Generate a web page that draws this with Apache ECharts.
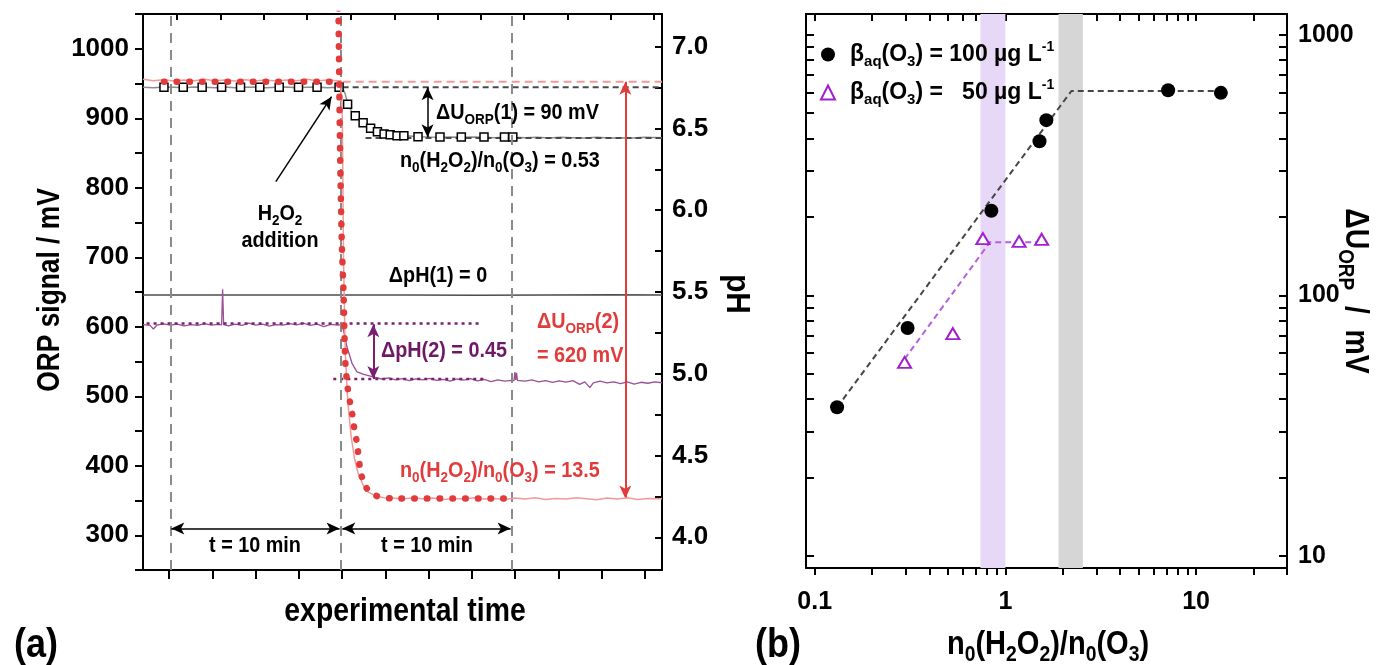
<!DOCTYPE html>
<html>
<head>
<meta charset="utf-8">
<title>ORP response to H2O2 addition</title>
<script src="https://cdn.jsdelivr.net/npm/echarts@6/dist/echarts.min.js"></script>
<style>
  html, body { margin: 0; padding: 0; background: #fff; }
  #chart { width: 1376px; height: 665px; }
</style>
</head>
<body>
<div id="chart"></div>
<script>
// ---------------- panel (a): ORP and pH traces over experimental time (min, H2O2 added at 0) ----------------
// ORP trace, n0(H2O2)/n0(O3) = 13.5
const orpTraceHigh = [[-11.61,956],[-11.0,954],[-10.4,955.5],[-9.8,953.5],[-9.2,955],[-8.6,954],[-8.0,956],[-7.4,954],
  [-6.8,955],[-6.2,953.5],[-5.6,955.5],[-5.0,954],[-4.4,955],[-3.8,953.5],[-3.2,955],[-2.6,954],[-2.0,956],[-1.4,954],
  [-0.8,955],[-0.2,954],[0.0,954],[0.08,900],[0.15,700],[0.25,565],[0.4,492],[0.6,442],[0.8,410],[1.0,390],[1.3,372],
  [1.6,362],[2.0,357],[2.5,354],[3.0,353.5],[3.6,352],[4.2,354],[4.8,352.5],[5.4,353.5],[6.0,351.5],[6.6,353],[7.2,352],
  [7.8,354],[8.4,352],[9.0,353],[9.6,351.5],[10.2,353.5],[10.8,352],[11.4,354],[12.0,351.5],[12.6,353],[13.2,352],
  [13.8,354],[14.4,352.5],[15.0,351],[15.6,353.5],[16.2,352],[16.8,354],[17.4,351.5],[18.0,353],[18.83,352.5]];
// model curve for the same run (before / after the addition)
const orpFitHighBefore = [[-10.38,952.6],[-0.15,952.6]];
const orpFitHighAfter = [[-0.18,1150],[-0.12,1000],[-0.05,850],[0.05,720],[0.15,650],[0.25,552],[0.39,513],[0.55,489],
  [0.7,469],[0.8,450],[0.94,433],[1.16,390],[1.5,368],[1.84,359],[2.33,355],[3.0,353],[10.0,353]];
// ORP trace, n0(H2O2)/n0(O3) = 0.53
const orpTraceLow = [[-11.61,944.5],[-11.0,944],[-10.4,945],[-9.8,944.5],[-9.2,944],[-8.6,945],[-8.0,944.5],[-7.4,944],
  [-6.8,945],[-6.2,944],[-5.6,944.5],[-5.0,945],[-4.4,944],[-3.8,944.5],[-3.2,945],[-2.6,944],[-2.0,944.5],[-1.4,945],
  [-0.8,944],[-0.2,944.5],[0.1,943],[0.25,935],[0.39,921],[0.6,911],[0.84,903.5],[1.1,897],[1.3,893.5],[1.74,885.5],
  [2.14,880.5],[2.53,877.5],[2.89,876.3],[3.29,875],[3.69,874.8],[4.2,874],[4.52,873.5],[5.2,873],[5.81,872.8],[6.5,873],
  [7.06,872.5],[7.8,873],[8.39,872.5],[9.0,872],[9.59,872.5],[10.08,872.5],[10.8,872],[11.5,872.5],[12.2,871.5],
  [12.9,872.5],[13.6,872],[14.3,871.5],[15.0,872.5],[15.7,871.5],[16.4,872],[17.1,871.5],[17.8,872.5],[18.83,872]];
const orpMarkersLow = [[-10.38,944.5],[-9.25,944.5],[-8.14,944.5],[-7.0,944.5],[-5.89,944.5],[-4.76,944.5],[-3.62,944.5],
  [-2.49,944.5],[-1.4,944.5],[-0.11,944.5],[0.39,920.1],[0.84,903.7],[1.3,893.6],[1.74,885.5],[2.14,880.7],[2.53,877.3],
  [2.89,876.3],[3.29,874.9],[3.69,874.9],[4.52,873.5],[5.81,873.0],[7.06,873.0],[8.39,873.0],[9.59,873.0],[10.08,873.0]];
// pH traces
const phTraceLow = [[-11.61,5.482],[-8,5.481],[-4,5.482],[0,5.481],[4,5.482],[8,5.48],[12,5.482],[16,5.483],[18.83,5.481]];
const phTraceHigh = [[-11.61,5.300],[-11.2,5.296],[-11.0,5.274],[-10.8,5.297],[-10.4,5.305],[-10.0,5.298],[-9.6,5.304],
  [-9.2,5.293],[-8.8,5.301],[-8.4,5.296],[-8.0,5.306],[-7.6,5.297],[-7.2,5.302],[-7.0,5.299],[-6.94,5.516],[-6.88,5.300],
  [-6.6,5.293],[-6.2,5.304],[-5.8,5.296],[-5.4,5.309],[-5.0,5.298],[-4.6,5.303],[-4.2,5.291],[-3.8,5.301],[-3.4,5.297],
  [-3.0,5.306],[-2.6,5.299],[-2.2,5.310],[-1.8,5.296],[-1.4,5.303],[-1.0,5.288],[-0.6,5.302],[-0.2,5.297],[0.0,5.300],
  [0.15,5.267],[0.35,5.165],[0.65,5.064],[0.94,5.012],[1.34,4.996],[1.94,4.980],[2.4,4.968],[2.8,4.975],[3.2,4.962],
  [3.6,4.970],[4.0,4.958],[4.4,4.969],[4.8,4.963],[5.2,4.972],[5.6,4.960],[6.0,4.966],[6.4,4.955],[6.8,4.968],[7.2,4.961],
  [7.6,4.970],[8.0,4.957],[8.4,4.965],[8.8,4.952],[9.2,4.963],[9.6,4.955],[10.0,4.960],[10.15,4.958],[10.2,5.010],
  [10.25,4.962],[10.3,5.005],[10.35,4.960],[10.8,4.955],[11.2,4.962],[11.6,4.950],[12.0,4.958],[12.4,4.947],[12.8,4.956],
  [13.2,4.949],[13.6,4.958],[14.0,4.935],[14.3,4.950],[14.6,4.915],[14.8,4.945],[15.2,4.955],[15.6,4.944],[16.0,4.951],
  [16.4,4.940],[16.8,4.950],[17.2,4.936],[17.6,4.948],[18.0,4.942],[18.4,4.951],[18.83,4.945]];
// reference levels and spans
const orpLevelHigh = 952.6, orpLevelHighEnd = 353;
const orpLevelLow = 944.5, orpLevelLowEnd = 871.5;
const phLevelStart = 5.308, phLevelEnd = 4.968;
const timeMarks = [-10, 0, 10];
const timeRange = [-11.61, 18.83];
const timeTicksBottom = [-10.08,-7.54,-5.01,-2.47,0.06,2.6,5.14,7.67,10.21,12.75,15.28,17.82];
const timeTicksTop = [-9.62,-7.04,-4.5,-1.98,0.59,3.13,5.67,8.2,10.74,13.3,15.85,18.33];
const orpRange = [250, 1050];
const phRange = [3.8, 7.2];
const phTicks = [4.0,4.25,4.5,4.75,5.0,5.25,5.5,5.75,6.0,6.25,6.5,6.75,7.0];
const phLabels = [4.0,4.5,5.0,5.5,6.0,6.5,7.0];

// ---------------- panel (b): ORP jump vs. molar ratio ----------------
const ratio100 = [0.131, 0.307, 0.844, 1.51, 1.64, 7.14, 13.5];
const dU100 = [37.2, 75, 211, 390, 470, 612, 598];
const ratio50 = [0.296, 0.53, 0.762, 1.18, 1.55];
const dU50 = [55.3, 71.3, 165, 161, 164];
const trend100 = [[0.131, 37.2], [2.22, 608], [13.5, 608]];
const trend50 = [[0.296, 57], [0.83, 160], [1.55, 160]];
const bandLow = [0.74, 1.0];
const bandHigh = [1.9, 2.55];
const ratioRange = [0.09, 30];
const dURange = [9, 1200];
const ratioTicks = [0.1,0.2,0.3,0.4,0.5,0.6,0.7,0.8,0.9,1,2,3,4,5,6,7,8,9,10,20,30];
const ratioLabels = [0.1, 1, 10];
const dUTicks = [10,20,30,40,50,60,70,80,90,100,200,300,400,500,600,700,800,900,1000];
const dULabels = [10, 100, 1000];

// ---------------- styling ----------------
const FONT = "'Liberation Sans','Arimo',Arial,sans-serif";
const RED = '#e23b3b', RED_LIGHT = '#f29a9a', PURPLE = '#9a4f96', PURPLE_DARK = '#7a1f72', VIOLET = '#a020d0';

function rich(size, color) {
  const base = { fontFamily: FONT, fontWeight: 'bold', fill: color, color: color };
  return {
    n: Object.assign({ fontSize: size, lineHeight: Math.round(size * 1.25) }, base),
    s: Object.assign({ fontSize: Math.round(size * 0.66), verticalAlign: 'bottom', lineHeight: Math.round(size * 0.72) }, base),
    p: Object.assign({ fontSize: Math.round(size * 0.62), verticalAlign: 'top', lineHeight: Math.round(size * 0.7) }, base)
  };
}
// text placed at (x, y); squeeze narrows glyphs along the reading direction
function label(x, y, text, size, color, align, rotation, squeeze) {
  return {
    type: 'text', x: x, y: y, rotation: rotation || 0, scaleX: squeeze || 0.9, silent: true, z: 100,
    style: {
      text: text, rich: rich(size, color || '#000'),
      font: 'bold ' + size + 'px ' + FONT, fill: color || '#000',
      align: align || 'center', verticalAlign: 'middle',
      textAlign: align || 'center', textVerticalAlign: 'middle'
    }
  };
}
const RATIO = (v) => '{n|n}{s|0}{n|(H}{s|2}{n|O}{s|2}{n|)/n}{s|0}{n|(O}{s|3}{n|)' + v + '}';

const axisLineStyle = { color: '#000', width: 2 };
const tickStyle = { color: '#000', width: 2 };
const tickLabelA = { color: '#000', fontFamily: FONT, fontWeight: 'bold', fontSize: 26 };
const tickLabelB = { color: '#000', fontFamily: FONT, fontWeight: 'bold', fontSize: 25 };

function dashedSpan(x0, x1, y, color, dash, width, yIdx) {
  return {
    type: 'line', xAxisIndex: 0, yAxisIndex: yIdx || 0, data: [[x0, y], [x1, y]],
    symbol: 'none', silent: true, z: 3,
    lineStyle: { color: color, type: dash, width: width }
  };
}
function arrowLine(x0, y0, x1, y1, color, width, both, yIdx) {
  return {
    type: 'line', xAxisIndex: 0, yAxisIndex: yIdx || 0, data: [], silent: true, z: 6,
    markLine: {
      silent: true, animation: false,
      symbol: both ? ['arrow', 'arrow'] : ['none', 'arrow'], symbolSize: [9, 13],
      lineStyle: { color: color, width: width, type: 'solid' },
      label: { show: false },
      data: [[{ coord: [x0, y0] }, { coord: [x1, y1] }]]
    }
  };
}

const chart = echarts.init(document.getElementById('chart'), null, { renderer: 'canvas' });

const option = {
  animation: false,
  backgroundColor: '#fff',
  grid: [
    { left: 143, top: 14, width: 519, height: 556, containLabel: false },
    { left: 806, top: 14, width: 481, height: 554, containLabel: false }
  ],
  xAxis: [
    { type: 'value', gridIndex: 0, position: 'bottom', min: timeRange[0], max: timeRange[1],
      axisLine: { show: true, onZero: false, lineStyle: axisLineStyle },
      axisTick: { show: true, inside: false, length: 9, lineStyle: tickStyle, customValues: timeTicksBottom },
      axisLabel: { show: false }, splitLine: { show: false } },
    { type: 'value', gridIndex: 0, position: 'top', min: timeRange[0], max: timeRange[1],
      axisLine: { show: true, onZero: false, lineStyle: axisLineStyle },
      axisTick: { show: true, inside: true, length: 6, lineStyle: tickStyle, customValues: timeTicksTop },
      axisLabel: { show: false }, splitLine: { show: false } },
    { type: 'log', logBase: 10, gridIndex: 1, position: 'bottom', min: ratioRange[0], max: ratioRange[1],
      axisLine: { show: true, onZero: false, lineStyle: axisLineStyle },
      axisTick: { show: true, inside: false, length: 7, lineStyle: tickStyle, customValues: ratioTicks },
      axisLabel: Object.assign({ customValues: ratioLabels, margin: 22, formatter: (v) => String(+v.toPrecision(3)) }, tickLabelB),
      splitLine: { show: false }, minorTick: { show: false } },
    { type: 'log', logBase: 10, gridIndex: 1, position: 'top', min: ratioRange[0], max: ratioRange[1],
      axisLine: { show: true, onZero: false, lineStyle: axisLineStyle },
      axisTick: { show: true, inside: true, length: 7, lineStyle: tickStyle, customValues: ratioTicks },
      axisLabel: { show: false }, splitLine: { show: false } }
  ],
  yAxis: [
    { type: 'value', gridIndex: 0, position: 'left', min: orpRange[0], max: orpRange[1], interval: 50,
      axisLine: { show: true, onZero: false, lineStyle: axisLineStyle },
      axisTick: { show: true, inside: false, length: 8, lineStyle: tickStyle },
      axisLabel: Object.assign({ margin: 14, formatter: (v) => (v % 100 === 0 ? String(v) : '') }, tickLabelA),
      splitLine: { show: false } },
    { type: 'value', gridIndex: 0, position: 'right', min: phRange[0], max: phRange[1],
      axisLine: { show: true, onZero: false, lineStyle: axisLineStyle },
      axisTick: { show: true, inside: true, length: 7, lineStyle: tickStyle, customValues: phTicks },
      axisLabel: Object.assign({ customValues: phLabels, margin: 10, formatter: (v) => (+v).toFixed(1) }, tickLabelA),
      splitLine: { show: false } },
    { type: 'log', logBase: 10, gridIndex: 1, position: 'right', min: dURange[0], max: dURange[1],
      axisLine: { show: true, onZero: false, lineStyle: axisLineStyle },
      axisTick: { show: true, inside: true, length: 8, lineStyle: tickStyle, customValues: dUTicks },
      axisLabel: Object.assign({ customValues: dULabels, margin: 11, formatter: (v) => String(Math.round(v)) }, tickLabelB),
      splitLine: { show: false }, minorTick: { show: false } },
    { type: 'log', logBase: 10, gridIndex: 1, position: 'left', min: dURange[0], max: dURange[1],
      axisLine: { show: true, onZero: false, lineStyle: axisLineStyle },
      axisTick: { show: true, inside: true, length: 8, lineStyle: tickStyle, customValues: dUTicks },
      axisLabel: { show: false }, splitLine: { show: false } }
  ],
  legend: {
    orient: 'vertical', left: 815, top: 35, itemWidth: 14, itemHeight: 14, itemGap: 9,
    selectedMode: false,
    data: ['100', '50'],
    formatter: (name) => name === '100'
      ? '{g|}{n|β}{s|aq}{n|(O}{s|3}{n|) = 100 µg L}{p|-1}'
      : '{g|}{n|β}{s|aq}{n|(O}{s|3}{n|) =   50 µg L}{p|-1}',
    textStyle: { rich: Object.assign({ g: { width: 10 } }, rich(23, '#000')) }
  },
  series: [
    // panel (a): 0.53 run, ORP
    { name: 'ORP 0.53', type: 'line', xAxisIndex: 0, yAxisIndex: 0, data: orpTraceLow, symbol: 'none', z: 2,
      lineStyle: { color: '#8c8c8c', width: 1.5 },
      markLine: { silent: true, symbol: 'none', label: { show: false },
        lineStyle: { color: '#8a8a8a', type: [10, 7], width: 2 },
        data: timeMarks.map((t) => ({ xAxis: t })) } },
    dashedSpan(0.1, timeRange[1], orpLevelLow, '#4a4a4a', [6, 4], 2),
    dashedSpan(1.44, timeRange[1], orpLevelLowEnd, '#4a4a4a', [6, 4], 2),
    dashedSpan(0.1, timeRange[1], orpLevelHigh, RED_LIGHT, [8, 5], 2),
    { name: 'ORP 0.53 markers', type: 'scatter', xAxisIndex: 0, yAxisIndex: 0, data: orpMarkersLow, symbol: 'rect',
      symbolSize: 8, z: 4, itemStyle: { color: '#fff', borderColor: '#000', borderWidth: 1.5, opacity: 1 } },
    // pH traces
    { name: 'pH 0.53', type: 'line', xAxisIndex: 0, yAxisIndex: 1, data: phTraceLow, symbol: 'none', z: 2,
      lineStyle: { color: '#4d4d4d', width: 1.5 } },
    { name: 'pH 13.5', type: 'line', xAxisIndex: 0, yAxisIndex: 1, data: phTraceHigh, symbol: 'none', z: 2,
      lineStyle: { color: PURPLE, width: 1.3 } },
    dashedSpan(-11.4, 8.1, phLevelStart, PURPLE_DARK, [3, 4], 2.5, 1),
    dashedSpan(-0.45, 8.5, phLevelEnd, PURPLE_DARK, [3, 4], 2.5, 1),
    // 13.5 run, ORP
    { name: 'ORP 13.5', type: 'line', xAxisIndex: 0, yAxisIndex: 0, data: orpTraceHigh, symbol: 'none', z: 5,
      lineStyle: { color: RED_LIGHT, width: 1.5 } },
    { name: 'ORP 13.5 model a', type: 'line', xAxisIndex: 0, yAxisIndex: 0, data: orpFitHighBefore, symbol: 'none', z: 7,
      lineStyle: { color: RED, width: 6.5, type: [0.5, 12.2], cap: 'round' } },
    { name: 'ORP 13.5 model b', type: 'line', xAxisIndex: 0, yAxisIndex: 0, data: orpFitHighAfter, symbol: 'none', z: 7,
      smooth: 0.25, clip: true,
      lineStyle: { color: RED, width: 6.5, type: [0.5, 12.2], cap: 'round' } },
    // annotation arrows
    arrowLine(-3.82, 808.7, -0.55, 931, '#000', 1.5, false),
    arrowLine(5.08, orpLevelLow, 5.08, orpLevelLowEnd + 1, '#000', 1.5, true),
    arrowLine(16.68, orpLevelHigh, 16.68, orpLevelHighEnd, RED, 2, true),
    arrowLine(-9.95, 309.7, -0.08, 309.7, '#000', 1.5, true),
    arrowLine(0.08, 309.7, 9.95, 309.7, '#000', 1.5, true),
    arrowLine(1.9, phLevelStart - 0.005, 1.9, phLevelEnd, PURPLE_DARK, 2, true, 1),

    // panel (b)
    { name: 'bands', type: 'line', xAxisIndex: 2, yAxisIndex: 2, data: [], z: 0,
      markArea: { silent: true, label: { show: false },
        data: [
          [{ xAxis: bandLow[0], itemStyle: { color: '#e8d8f8' } }, { xAxis: bandLow[1] }],
          [{ xAxis: bandHigh[0], itemStyle: { color: '#d6d6d6' } }, { xAxis: bandHigh[1] }]
        ] } },
    { name: 'trend 100', type: 'line', xAxisIndex: 2, yAxisIndex: 2, data: trend100, symbol: 'none', z: 2,
      lineStyle: { color: '#454545', width: 2, type: [6, 4] } },
    { name: 'trend 50', type: 'line', xAxisIndex: 2, yAxisIndex: 2, data: trend50, symbol: 'none', z: 2,
      lineStyle: { color: '#b55fe0', width: 2, type: [6, 4] } },
    { name: '100', type: 'scatter', xAxisIndex: 2, yAxisIndex: 2, z: 4,
      data: ratio100.map((r, i) => [r, dU100[i]]), symbol: 'circle', symbolSize: 14,
      itemStyle: { color: '#000', opacity: 1 } },
    { name: '50', type: 'scatter', xAxisIndex: 2, yAxisIndex: 2, z: 4,
      data: ratio50.map((r, i) => [r, dU50[i]]), symbol: 'triangle', symbolSize: [13, 11],
      itemStyle: { color: '#fff', borderColor: VIOLET, borderWidth: 2, opacity: 1 } }
  ],
  graphic: [
    label(280, 214, '{n|H}{s|2}{n|O}{s|2}', 22),
    label(280, 241, '{n|addition}', 22),
    label(436, 113, '{n|ΔU}{s|ORP}{n|(1) = 90 mV}', 22, '#000', 'left'),
    label(400, 161, RATIO(' = 0.53'), 22, '#000', 'left'),
    label(438, 276, '{n|ΔpH(1) = 0}', 22),
    label(381, 351, '{n|ΔpH(2) = 0.45}', 22, '#6e1966', 'left'),
    label(537, 322, '{n|ΔU}{s|ORP}{n|(2)}', 22, RED, 'left'),
    label(537, 356, '{n|= 620 mV}', 22, RED, 'left'),
    label(400, 471, RATIO(' = 13.5'), 22, RED, 'left'),
    label(255, 546, '{n|t = 10 min}', 22),
    label(427, 546, '{n|t = 10 min}', 22),
    label(405, 612, '{n|experimental time}', 33, '#000', 'center', 0, 0.86),
    label(50, 290, '{n|ORP signal / mV}', 31, '#000', 'center', Math.PI / 2, 0.85),
    label(736, 294, '{n|pH}', 33, '#000', 'center', -Math.PI / 2, 0.9),
    label(36, 646, '{n|(a)}', 40, '#000', 'center', 0, 0.9),
    label(778, 646, '{n|(b)}', 40, '#000', 'center', 0, 0.9),
    label(1048, 645, RATIO(''), 33, '#000', 'center', 0, 0.88),
    label(1355, 291, '{n|ΔU}{s|ORP}{n|  /  mV}', 33, '#000', 'center', -Math.PI / 2, 0.86)
  ]
};

chart.setOption(option);
</script>
</body>
</html>
